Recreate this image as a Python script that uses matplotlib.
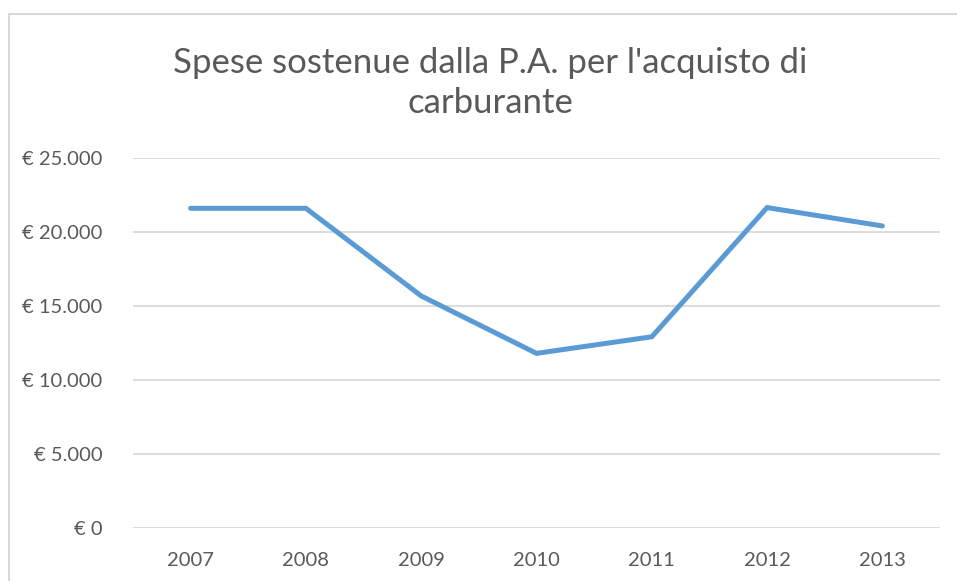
import matplotlib.pyplot as plt
from matplotlib.lines import Line2D
from matplotlib.ticker import FuncFormatter, MultipleLocator

anni = ['2007', '2008', '2009', '2010', '2011', '2012', '2013']
spese = [21600, 21600, 15680, 11800, 12920, 21650, 20410]

TEXT = '#595959'
GRID = '#D9D9D9'
BLUE = '#5B9BD5'

plt.rcParams['font.family'] = ['Lato', 'DejaVu Sans']


def euro(v, pos):
    return '€ ' + f'{int(v):,}'.replace(',', '.')


fig = plt.figure(figsize=(9.57, 5.81), dpi=100)
ax = fig.add_axes([133 / 957, 1 - 528 / 581, (940 - 133) / 957, (528 - 158) / 581])

x = range(len(anni))
ax.plot(x, spese, color=BLUE, linewidth=3.6, solid_capstyle='round', solid_joinstyle='miter')

ax.set_xlim(-0.5, len(anni) - 0.5)
ax.set_ylim(0, 25000)
ax.yaxis.set_major_locator(MultipleLocator(5000))
ax.yaxis.set_major_formatter(FuncFormatter(euro))
ax.set_xticks(list(x))
ax.set_xticklabels(anni)

ax.grid(axis='y', color=GRID, linewidth=1.3)
ax.set_axisbelow(True)
for s in ax.spines.values():
    s.set_visible(False)
ax.tick_params(axis='both', length=0, labelsize=14.5, colors=TEXT)
ax.tick_params(axis='y', pad=22)
ax.tick_params(axis='x', pad=17)

fig.text(490 / 957, 1 - 83 / 581, "Spese sostenue dalla P.A. per l'acquisto di\ncarburante",
         ha='center', va='center', fontsize=25, color=TEXT, fontweight='normal',
         linespacing=1.32)

# bordo dell'area del grafico
fig.add_artist(Line2D([9 / 957, 1.01], [1 - 13.5 / 581] * 2, color=GRID, linewidth=1.5))
fig.add_artist(Line2D([9 / 957] * 2, [-0.01, 1 - 13.5 / 581], color=GRID, linewidth=1.5))

fig.savefig('out.png', dpi=100)
